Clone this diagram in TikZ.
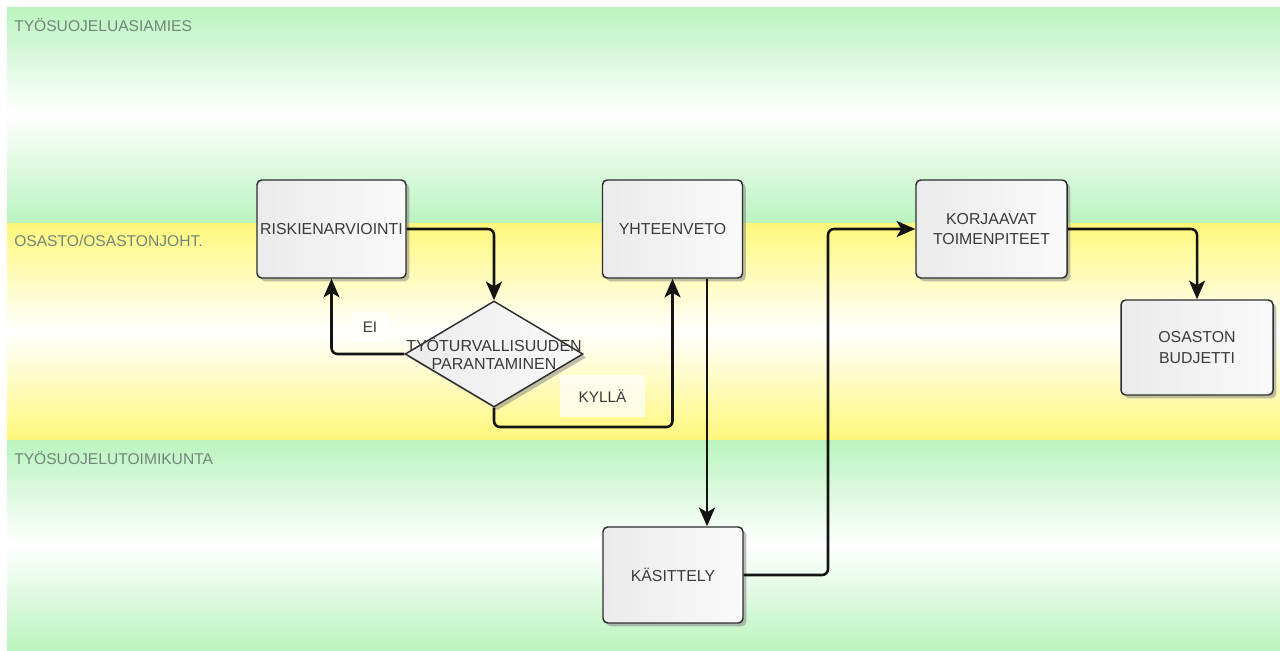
\documentclass[tikz,border=0pt]{standalone}
\usepackage{fontspec}
\setmainfont{Liberation Sans}
\usetikzlibrary{shapes.geometric,arrows.meta,shadows}
\def\pxu{0.75pt}
\definecolor{lanegreen}{HTML}{BAF4BE}
\definecolor{laneyellow}{HTML}{FFF77A}
\definecolor{lanetext}{HTML}{72867A}
\definecolor{boxline}{HTML}{2E2E2E}
\definecolor{boxtext}{HTML}{3A3A3A}
\begin{document}
\begin{tikzpicture}[x=0.75pt,y=-0.75pt,
  lanelabel/.style={anchor=west,inner sep=0pt,text=lanetext,font=\fontsize{11.7pt}{13pt}\selectfont},
  stepbox/.style={rectangle,rounded corners=3.5pt,draw=boxline,line width=1.1pt,
    left color=black!8,right color=black!2,text=boxtext,align=center,inner sep=1pt,
    font=\fontsize{11.9pt}{15.5pt}\selectfont,
    drop shadow={opacity=0.5,shadow xshift=2.5pt,shadow yshift=-2.5pt}},
  decision/.style={diamond,draw=boxline,line width=1.1pt,inner sep=0pt,
    left color=black!8,right color=black!2,
    minimum width=178*\pxu,minimum height=106*\pxu,
    drop shadow={opacity=0.5,shadow xshift=2.5pt,shadow yshift=-2.5pt}},
  dectext/.style={text=boxtext,align=center,inner sep=0pt,font=\fontsize{12pt}{13.5pt}\selectfont},
  edgelabel/.style={fill=white,fill opacity=0.7,text opacity=1,text=boxtext,inner sep=0pt,
    font=\fontsize{11.5pt}{13pt}\selectfont},
  conn/.style={draw=black!92,line width=1.9pt,rounded corners=4.5pt,
    -{Stealth[length=14pt,width=12pt,inset=3.5pt]}}]
\useasboundingbox (0,0) rectangle (1280,650);
\fill[white] (0,0) rectangle (1280,650);

% swimlanes: colour at the edges, fading to white in the middle
\shade[top color=lanegreen,bottom color=lanegreen,middle color=white] (7,7) rectangle (1280,223);
\shade[top color=laneyellow,bottom color=laneyellow,middle color=white] (7,223) rectangle (1280,440);
\shade[top color=lanegreen,bottom color=lanegreen,middle color=white] (7,440) rectangle (1280,650);
\node[lanelabel] (l1) at (14,25) {TYÖSUOJELUASIAMIES};
\node[lanelabel] (l2) at (14,241) {OSASTO/OSASTONJOHT.};
\node[lanelabel] (l3) at (14,458) {TYÖSUOJELUTOIMIKUNTA};

% process steps
\node[stepbox,minimum width=149*\pxu,minimum height=98*\pxu] (risk) at (331.5,229) {RISKIENARVIOINTI};
\node[stepbox,minimum width=140*\pxu,minimum height=98*\pxu] (yht) at (672.5,229) {YHTEENVETO};
\node[stepbox,minimum width=151*\pxu,minimum height=98*\pxu] (korj) at (991.5,229) {KORJAAVAT\\TOIMENPITEET};
\node[stepbox,minimum width=152*\pxu,minimum height=95*\pxu] (bud) at (1197,347.5) {OSASTON\\BUDJETTI};
\node[stepbox,minimum width=140*\pxu,minimum height=96*\pxu] (kas) at (673,575) {KÄSITTELY};
\node[decision] (dec) at (494,354) {};
\node[dectext] (dect) at (dec.center) {TYÖTURVALLISUUDEN\\PARANTAMINEN};

% helper points for the routed connectors
\coordinate (yk) at (672.5,427);
\coordinate (kx) at (707,0);
\coordinate (c2) at (828,400);

% connectors
\draw[conn] (risk.east) -| (dec.north);
\draw[conn] (dec.west) -| (risk.south);
\draw[conn] (dec.south) |- (yk) -- (yht.south);
\draw[conn] (yht.south -| kx) -- (kas.north -| kx);
\draw[conn] (kas.east) -| (c2) |- (korj.west);
\draw[conn] (korj.east) -| (bud.north);

% branch labels
\node[edgelabel,minimum width=35*\pxu,minimum height=30*\pxu] (ei) at (370,327) {EI};
\node[edgelabel,minimum width=85*\pxu,minimum height=42*\pxu] (kylla) at (602.5,396) {KYLLÄ};
\end{tikzpicture}
\end{document}
